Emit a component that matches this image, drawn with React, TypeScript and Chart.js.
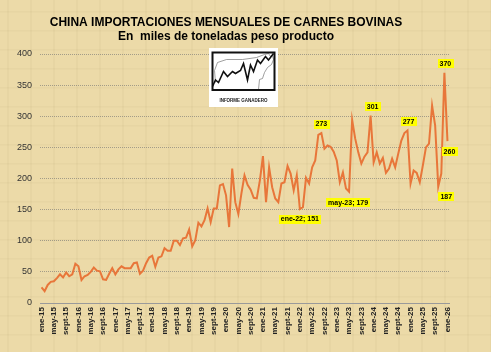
import React, { useEffect, useRef } from "react";
import { Chart, registerables } from "chart.js";

Chart.register(...registerables);

// ---------- data ----------
const MONTHS = ["ene", "feb", "mar", "abr", "may", "jun", "jul", "ago", "sept", "oct", "nov", "dic"];

const v2015 = [25, 19, 29, 34, 35, 40, 46, 41, 49, 43, 46, 63];
const v2016 = [59, 37, 43, 45, 50, 57, 52, 51, 38, 37, 47, 56];
const v2017 = [46, 54, 59, 56, 56, 56, 64, 65, 47, 52, 64, 73];
const v2018 = [76, 58, 73, 75, 88, 84, 84, 100, 100, 93, 104, 105];
const v2019 = [118, 91, 101, 129, 123, 133, 152, 130, 152, 152, 189, 191];
const v2020 = [173, 122, 216, 162, 143, 176, 205, 190, 182, 169, 168, 197];
const v2021 = [236, 162, 218, 186, 168, 162, 192, 194, 220, 208, 181, 205];
const v2022 = [151, 154, 201, 192, 218, 229, 270, 273, 248, 253, 251, 243];
const v2023 = [229, 194, 210, 184, 179, 294, 264, 242, 224, 235, 242, 301];
const v2024 = [226, 242, 224, 233, 209, 216, 232, 218, 240, 261, 273, 277];
const v2025 = [192, 213, 209, 194, 221, 250, 256, 317, 285, 187, 208, 370];
const v2026 = [260];

const YEARS = ["15", "16", "17", "18", "19", "20", "21", "22", "23", "24", "25", "26"];
const YEAR_SERIES = [v2015, v2016, v2017, v2018, v2019, v2020, v2021, v2022, v2023, v2024, v2025, v2026];

const categories: string[] = [];
const values: number[] = [];
YEAR_SERIES.forEach((arr, yi) => {
  arr.forEach((v, mi) => {
    categories.push(`${MONTHS[mi]}-${YEARS[yi]}`);
    values.push(v);
  });
});

// labelled points
const LABEL_POINTS = ["ene-22", "may-23", "ago-22", "dic-23", "dic-24", "oct-25", "dic-25", "ene-26"];
const LABEL_WITH_CATEGORY = ["ene-22", "may-23"];

const TITLE = "CHINA IMPORTACIONES MENSUALES DE CARNES BOVINAS";
const SUBTITLE = "En  miles de toneladas peso producto";
const LOGO_TEXT = "INFORME GANADERO";

// ---------- styles ----------
const FONT = '"Liberation Sans", Arial, Helvetica, sans-serif';
const LINE_COLOR = "#E8763A";
const BG = "#ECDAA8";
// label offsets (px) relative to the point
const LABEL_OFFSETS: Record<string, [number, number]> = {
  "ene-22": [0, 10],
  "may-23": [-1, 11],
  "ago-22": [0, -9],
  "dic-23": [2, -9],
  "dic-24": [1, -9],
  "oct-25": [8, 10],
  "dic-25": [1, -9],
  "ene-26": [2, 10],
};
// decorative logo sketch (relative to its frame)
const LOGO_ZIGZAG = [
  [0, 34], [3, 27.5], [6, 30], [11, 19], [15, 24], [20, 19], [23, 21], [28, 18], [31, 11],
  [35, 27.5], [38, 12.5], [41, 19], [45, 7.5], [48, 11], [53, 4], [56, 7.5], [61, 1],
];
const LOGO_COW = [
  [3, 30], [2, 18], [5, 10], [14, 7], [30, 7], [44, 5], [52, 2], [56, 1], [58, 4], [60, 3],
  [61, 7], [59, 12], [55, 15], [52, 20], [50, 26], [47, 27], [46, 37],
];

const decorPlugin = {
  id: "decor",
  beforeDraw(chart: any) {
    const ctx = chart.ctx as CanvasRenderingContext2D;
    const { width, height } = chart;
    ctx.save();
    ctx.fillStyle = BG;
    ctx.fillRect(0, 0, width, height);
    // faint parchment fibres
    ctx.globalAlpha = 0.04;
    ctx.fillStyle = "#8a6a30";
    for (let x = 7; x < width; x += 23) ctx.fillRect(x, 0, 2, height);
    for (let y = 11; y < height; y += 19) ctx.fillRect(0, y, width, 1.5);
    ctx.globalAlpha = 1;
    ctx.fillStyle = "#000";
    ctx.textAlign = "center";
    ctx.textBaseline = "alphabetic";
    ctx.font = `bold 12px ${FONT}`;
    ctx.fillText(TITLE, 226, 26);
    ctx.fillText(SUBTITLE, 226, 40);
    ctx.restore();
  },
  afterDraw(chart: any) {
    const ctx = chart.ctx as CanvasRenderingContext2D;
    ctx.save();
    // logo
    ctx.fillStyle = "#fff";
    ctx.fillRect(209, 48, 69, 59);
    const fx = 212.5, fy = 52.5;
    ctx.strokeStyle = "#777";
    ctx.lineWidth = 0.7;
    ctx.beginPath();
    LOGO_COW.forEach(([x, y], i) => (i ? ctx.lineTo(fx + x, fy + y) : ctx.moveTo(fx + x, fy + y)));
    ctx.stroke();
    ctx.strokeStyle = "#111";
    ctx.lineWidth = 1.6;
    ctx.beginPath();
    LOGO_ZIGZAG.forEach(([x, y], i) => (i ? ctx.lineTo(fx + x, fy + y) : ctx.moveTo(fx + x, fy + y)));
    ctx.stroke();
    ctx.lineWidth = 2;
    ctx.strokeStyle = "#111";
    ctx.strokeRect(fx, fy, 62, 37.5);
    ctx.fillStyle = "#222";
    ctx.font = `bold 4.5px ${FONT}`;
    ctx.textAlign = "center";
    ctx.textBaseline = "middle";
    ctx.fillText(LOGO_TEXT, 243.5, 101);
    ctx.restore();
  },
};

const labelPlugin = {
  id: "pointLabels",
  afterDatasetsDraw(chart: any) {
    const ctx = chart.ctx as CanvasRenderingContext2D;
    const meta = chart.getDatasetMeta(0);
    ctx.save();
    ctx.font = `bold 7px ${FONT}`;
    ctx.textAlign = "center";
    ctx.textBaseline = "middle";
    LABEL_POINTS.forEach((cat) => {
      const i = categories.indexOf(cat);
      if (i < 0) return;
      const pt = meta.data[i];
      const text = LABEL_WITH_CATEGORY.includes(cat) ? `${cat}; ${values[i]}` : String(values[i]);
      const [dx, dy] = LABEL_OFFSETS[cat] || [0, -9];
      const w = ctx.measureText(text).width + 4;
      const h = 9;
      const cx = pt.x + dx;
      const cy = pt.y + dy;
      ctx.fillStyle = "#FFFF00";
      ctx.fillRect(Math.round(cx - w / 2), Math.round(cy - h / 2), Math.round(w), h);
      ctx.fillStyle = "#000";
      ctx.fillText(text, cx, cy + 0.5);
    });
    ctx.restore();
  },
};

export default function App() {
  const ref = useRef<HTMLCanvasElement>(null);
  useEffect(() => {
    document.body.style.margin = "0";
    const chart = new Chart(ref.current as HTMLCanvasElement, {
      type: "line",
      data: {
        labels: categories,
        datasets: [
          {
            data: values,
            borderColor: LINE_COLOR,
            borderWidth: 2,
            pointRadius: 0,
            tension: 0,
            fill: false,
          },
        ],
      },
      options: {
        responsive: false,
        animation: false,
        devicePixelRatio: 1,
        layout: { padding: { top: 54, right: 42, bottom: 0, left: 0 } },
        plugins: {
          legend: { display: false },
          tooltip: { enabled: false },
          title: { display: false },
        },
        scales: {
          x: {
            offset: true,
            grid: { display: false, drawTicks: false },
            border: { display: true, color: "#9a9a9a", width: 1 },
            ticks: {
              autoSkip: false,
              maxRotation: 90,
              minRotation: 90,
              padding: 4,
              color: "#222",
              font: { family: FONT, size: 8, weight: "bold" },
              callback: (_v: any, i: number) => (i % 4 === 0 ? categories[i] : null),
            },
            afterFit: (s: any) => {
              s.height = 49;
            },
          },
          y: {
            min: 0,
            max: 400,
            ticks: {
              stepSize: 50,
              padding: 8,
              color: "#333",
              font: { family: FONT, size: 9 },
            },
            grid: { color: "rgba(115,115,115,0.6)", lineWidth: 1, drawTicks: false },
            border: { display: false, dash: [1, 1] },
            afterFit: (s: any) => {
              s.width = 40;
            },
          },
        },
      } as any,
      plugins: [decorPlugin, labelPlugin],
    });
    return () => chart.destroy();
  }, []);
  return (
    <div style={{ position: "fixed", left: 0, top: 0, width: 491, height: 352 }}>
      <canvas ref={ref} width={491} height={352} style={{ display: "block" }} />
    </div>
  );
}
